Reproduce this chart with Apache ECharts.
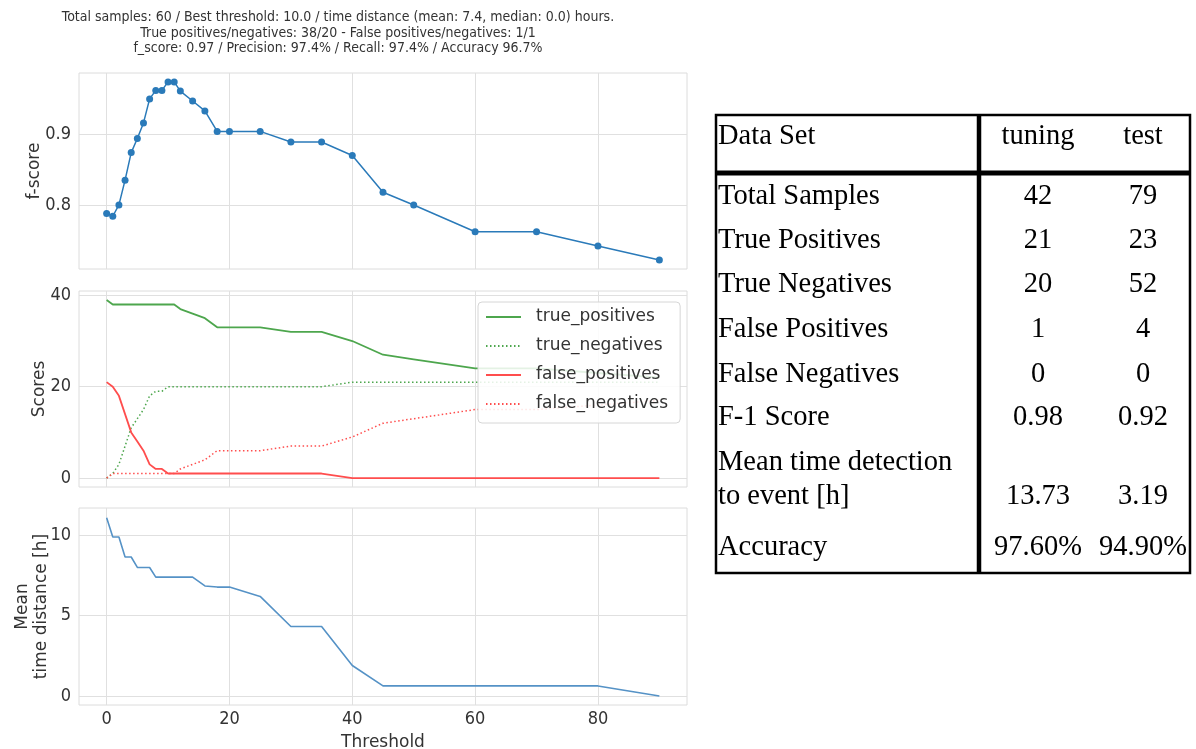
<!DOCTYPE html>
<html>
<head>
<meta charset="utf-8">
<script src="https://cdn.jsdelivr.net/npm/echarts@6/dist/echarts.min.js"></script>
<style>
html,body{margin:0;padding:0;background:#fff;}
#chart{width:1196px;height:749px;}
</style>
</head>
<body>
<div id="chart"></div>
<script>
// ---------------- data ----------------
const thresholds = [0,1,2,3,4,5,6,7,8,9,10,11,12,14,16,18,20,25,30,35,40,45,50,60,70,80,90];
const fScore = [0.788,0.784,0.800,0.835,0.874,0.894,0.916,0.950,0.962,0.962,0.974,0.974,0.961,0.947,0.933,0.904,0.904,0.904,0.889,0.889,0.870,0.818,0.800,0.762,0.762,0.742,0.722];
const truePositives  = [39,38,38,38,38,38,38,38,38,38,38,38,37,36,35,33,33,33,32,32,30,27,26,24,24,23,22];
const trueNegatives  = [0,1,3,7,11,13,15,18,19,19,20,20,20,20,20,20,20,20,20,20,21,21,21,21,21,21,21];
const falsePositives = [21,20,18,14,10,8,6,3,2,2,1,1,1,1,1,1,1,1,1,1,0,0,0,0,0,0,0];
const falseNegatives = [0,1,1,1,1,1,1,1,1,1,1,1,2,3,4,6,6,6,7,7,9,12,13,15,15,16,17];
const meanTimeDistance = [11.1,9.9,9.9,8.65,8.65,8.0,8.0,8.0,7.4,7.4,7.4,7.4,7.4,7.4,6.85,6.78,6.78,6.2,4.33,4.33,1.9,0.63,0.63,0.63,0.63,0.63,0.0];

const xTicks = [0,20,40,60,80];
const fTicks = [0.8,0.9];
const scoreTicks = [0,20,40];
const timeTicks = [0,5,10];

const titleLines = [
  'Total samples: 60 / Best threshold: 10.0 / time distance (mean: 7.4, median: 0.0) hours.',
  'True positives/negatives: 38/20 - False positives/negatives: 1/1',
  'f_score: 0.97 / Precision: 97.4% / Recall: 97.4% / Accuracy 96.7%'
];

const tableHeader = ['Data Set','tuning','test'];
const tableRowLabels = ['Total Samples','True Positives','True Negatives','False Positives','False Negatives','F-1 Score','Mean time detection\nto event [h]','Accuracy'];
const tuningValues = ['42','21','20','1','0','0.98','13.73','97.60%'];
const testValues = ['79','23','52','4','0','0.92','3.19','94.90%'];

// ---------------- layout ----------------
const pair = (ys) => thresholds.map((t,i)=>[t, ys[i]]);
const gridL = 79, gridW = 608;
const grids = [
  {left: gridL, top: 73, width: gridW, height: 196},
  {left: gridL, top: 291, width: gridW, height: 196},
  {left: gridL, top: 508, width: gridW, height: 197}
];
const tickFont = {fontFamily:'DejaVu Sans Condensed', fontSize:18, color:'#333'};
const nameFont = {fontFamily:'DejaVu Sans', fontSize:17, color:'#333'};
const gridColor = '#e0e0e0';

function xAxis(idx, showLabel){
  return {
    type:'value', gridIndex:idx, min:-4.5, max:94.5,
    axisLine:{show:false}, axisTick:{show:false, customValues:xTicks},
    axisLabel:{show:showLabel, customValues:xTicks, margin:5, ...tickFont},
    splitLine:{show:true, lineStyle:{color:gridColor, width:1}},
    name: showLabel ? 'Threshold' : '', nameLocation:'middle', nameGap:29, nameMoveOverlap:false, nameTextStyle:nameFont
  };
}
function yAxis(idx, min, max, ticks, name, gap, fmt){
  return {
    type:'value', gridIndex:idx, min:min, max:max,
    axisLine:{show:false}, axisTick:{show:false, customValues:ticks},
    axisLabel:{customValues:ticks, margin:8, formatter:fmt, ...tickFont},
    splitLine:{show:true, lineStyle:{color:gridColor, width:1}},
    name:name, nameLocation:'middle', nameGap:gap, nameRotate:90, nameMoveOverlap:false,
    nameTextStyle:Object.assign({lineHeight:19}, nameFont)
  };
}

// table graphics
const T = {left:716, top:115, right:1190, bottom:573, divX:979, headLineY:173, labelX:718, col1:1038, col2:1143};
const rowY = [197,241,285,330,375,418,480,548];
const rowValY = [197,241,285,330,375,418,497,548];
const serif = 'Liberation Serif';
const tFont = 28.5;
const graphics = [];
graphics.push({type:'rect', shape:{x:T.left, y:T.top, width:T.right-T.left, height:T.bottom-T.top}, style:{fill:'none', stroke:'#000', lineWidth:2.5}});
graphics.push({type:'rect', shape:{x:T.divX-2.25, y:T.top, width:4.5, height:T.bottom-T.top}, style:{fill:'#000'}});
graphics.push({type:'rect', shape:{x:T.left, y:T.headLineY-2.5, width:T.right-T.left, height:5}, style:{fill:'#000'}});
function tText(txt, x, y, align){
  return {type:'text', x:x, y:y, style:{text:txt, fontFamily:serif, fontSize:tFont, lineHeight:34, fill:'#000', align:align, verticalAlign:'middle'}};
}
graphics.push(tText(tableHeader[0], T.labelX, 137, 'left'));
graphics.push(tText(tableHeader[1], T.col1, 137, 'center'));
graphics.push(tText(tableHeader[2], T.col2, 137, 'center'));
tableRowLabels.forEach((lab,i)=>{
  graphics.push(tText(lab, T.labelX, rowY[i], 'left'));
  graphics.push(tText(tuningValues[i], T.col1, rowValY[i], 'center'));
  graphics.push(tText(testValues[i], T.col2, rowValY[i], 'center'));
});
graphics.push({type:'text', x:338, y:10, style:{text:titleLines.join('\n'), fontFamily:'DejaVu Sans Condensed', fontSize:14, lineHeight:15.5, fill:'#333', align:'center', verticalAlign:'top'}});

const chart = echarts.init(document.getElementById('chart'), null, {renderer:'canvas'});
const dotted = [1.5, 2.5];
chart.setOption({
  backgroundColor:'#fff',
  animation:false,
  grid: grids.map(g=>Object.assign({show:true, borderColor:'#dcdcdc', borderWidth:1, backgroundColor:'#fff', outerBoundsMode:'none', containLabel:false}, g)),
  xAxis:[xAxis(0,false), xAxis(1,false), xAxis(2,true)],
  yAxis:[
    yAxis(0, 0.7094, 0.9866, fTicks, 'f-score', 35, v=>v.toFixed(1)),
    yAxis(1, -1.95, 40.95, scoreTicks, 'Scores', 30, v=>String(v)),
    yAxis(2, -0.557, 11.70, timeTicks, 'Mean\ntime distance [h]', 28, v=>String(v))
  ],
  legend:{
    data:['true_positives','true_negatives','false_positives','false_negatives'],
    orient:'vertical', left:478, top:302,
    itemWidth:35, itemHeight:10, itemGap:9,
    padding:[5,12,9,7],
    itemStyle:{opacity:0, borderWidth:0},
    backgroundColor:'rgba(255,255,255,0.85)', borderColor:'#d6d6d6', borderWidth:1, borderRadius:4,
    textStyle:{fontFamily:'DejaVu Sans', fontSize:17, color:'#333', lineHeight:20, padding:[0,0,0,10]}
  },
  graphic: graphics,
  series:[
    {type:'line', name:'f-score', xAxisIndex:0, yAxisIndex:0, data:pair(fScore),
     symbol:'circle', symbolSize:7, showSymbol:true,
     lineStyle:{color:'#2a7ab9', width:1.5}, itemStyle:{color:'#2a7ab9'}},
    {type:'line', name:'true_positives', xAxisIndex:1, yAxisIndex:1, data:pair(truePositives), symbol:'none',
     lineStyle:{color:'#4da64d', width:1.8}, itemStyle:{color:'#4da64d'}},
    {type:'line', name:'true_negatives', xAxisIndex:1, yAxisIndex:1, data:pair(trueNegatives), symbol:'none',
     lineStyle:{color:'#4da64d', width:1.5, type:dotted}, itemStyle:{color:'#4da64d'}},
    {type:'line', name:'false_positives', xAxisIndex:1, yAxisIndex:1, data:pair(falsePositives), symbol:'none',
     lineStyle:{color:'#ff4d4d', width:1.8}, itemStyle:{color:'#ff4d4d'}},
    {type:'line', name:'false_negatives', xAxisIndex:1, yAxisIndex:1, data:pair(falseNegatives), symbol:'none',
     lineStyle:{color:'#ff4d4d', width:1.5, type:dotted}, itemStyle:{color:'#ff4d4d'}},
    {type:'line', name:'mean', xAxisIndex:2, yAxisIndex:2, data:pair(meanTimeDistance), symbol:'none',
     lineStyle:{color:'#5592c6', width:1.6}, itemStyle:{color:'#5592c6'}}
  ]
});
</script>
</body>
</html>
